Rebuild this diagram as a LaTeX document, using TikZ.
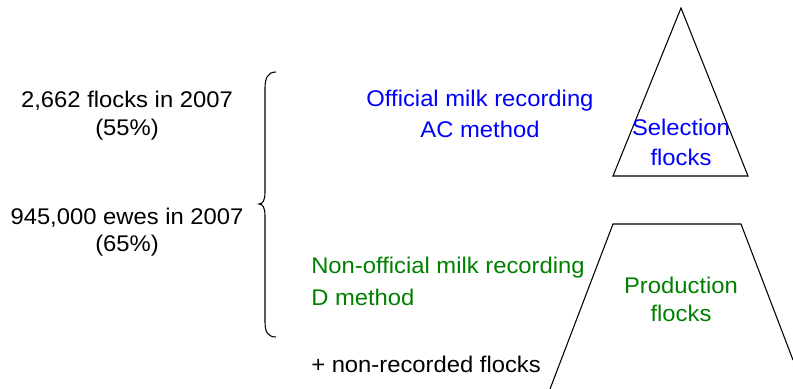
\documentclass[tikz,border=0pt]{standalone}
\usepackage{fontspec}
\setmainfont[FakeStretch=1.05]{Liberation Sans}
\begin{document}
\begin{tikzpicture}[x=0.75pt,y=-0.75pt,
  txt/.style={inner sep=0pt,font=\fontsize{17}{19}\selectfont},
  bl/.style={txt,text={rgb,255:red,0;green,0;blue,255}},
  gr/.style={txt,text={rgb,255:red,0;green,128;blue,0}},
  shp/.style={draw=black,line width=0.8pt,line join=miter}]
\useasboundingbox (0,0) rectangle (793,389);
\clip (0,0) rectangle (793,389);
% left texts
\node[txt] (t1) at (127,101) {2,662 flocks in 2007};
\node[txt] (t2) at (127,130) {(55\%)};
\node[txt] (t3) at (127,218) {945,000 ewes in 2007};
\node[txt] (t4) at (127,246) {(65\%)};
% brace
\draw[line width=0.8pt] (276,72) .. controls (268,72) and (265,78) .. (265,88) -- (265,192)
  .. controls (265,200) and (263,204) .. (259,204)
  .. controls (263,204) and (265,208) .. (265,216) -- (265,322)
  .. controls (265,332) and (268,337) .. (276,337);
% middle texts
\node[bl] (o1) at (480,101) {Official milk recording};
\node[bl] (o2) at (480,129) {AC method};
\node[gr,anchor=west] (n1) at (311,268) {Non-official milk recording};
\node[gr,anchor=west] (n2) at (311,297) {D method};
\node[txt,anchor=west] (n3) at (311,364) {+ non-recorded flocks};
% triangle
\draw[shp] (681,8) -- (748,176) -- (613,176) -- cycle;
\node[bl] (s1) at (681,127) {Selection};
\node[bl] (s2) at (681,157) {flocks};
% trapezoid
\draw[shp] (550,389) -- (613,224) -- (741,224) -- (793,360);
\node[gr] (p1) at (681,285) {Production};
\node[gr] (p2) at (681,313) {flocks};
\end{tikzpicture}
\end{document}
